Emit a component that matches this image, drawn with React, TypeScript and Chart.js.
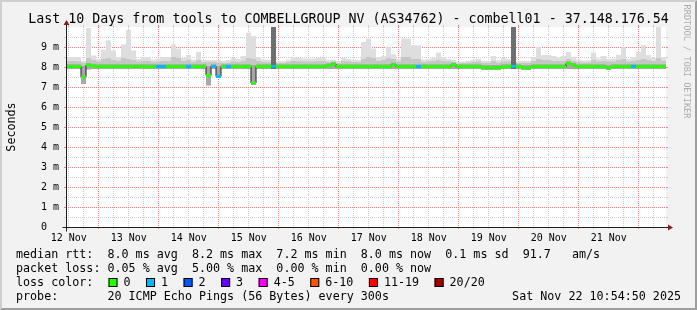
import React, { useEffect, useRef } from 'react';
import { Chart, registerables } from 'chart.js';

Chart.register(...registerables);

// ---------- text ----------
const TITLE = 'Last 10 Days from tools to COMBELLGROUP NV (AS34762) - combell01 - 37.148.176.54';
const Y_TITLE = 'Seconds';
const WATERMARK = 'RRDTOOL / TOBI OETIKER';
const STAT_LINE = 'median rtt:  8.0 ms avg  8.2 ms max  7.2 ms min  8.0 ms now  0.1 ms sd  91.7   am/s';
const LOSS_LINE = 'packet loss: 0.05 % avg  5.00 % max  0.00 % min  0.00 % now';
const LOSS_COLOR_TITLE = 'loss color:';
const PROBE_LINE = 'probe:       20 ICMP Echo Pings (56 Bytes) every 300s';
const DATE_TEXT = 'Sat Nov 22 10:54:50 2025';

// ---------- axes ----------
const RANGE_HOURS = 240; // 10 days, starting Nov 12 10:54:50
const BIN_HOURS = 2;
const FIRST_MIDNIGHT_H = 13 + 5 / 60 + 10 / 3600; // Nov 13 00:00 relative to start
const dayLabels = ['12 Nov', '13 Nov', '14 Nov', '15 Nov', '16 Nov', '17 Nov', '18 Nov', '19 Nov', '20 Nov', '21 Nov'];
const Y_MAX_MS = 10;
const yTickLabels = ['0', '1 m', '2 m', '3 m', '4 m', '5 m', '6 m', '7 m', '8 m', '9 m'];

// ---------- loss legend ----------
const lossLabels = ['0', '1', '2', '3', '4-5', '6-10', '11-19', '20/20'];
const lossColors = ['#26ff00', '#00b8ff', '#0059ff', '#6a00ff', '#ff00ff', '#ff5500', '#ff0000', '#a10000'];

// ---------- data (ms), one value per 2-hour bin ----------
const smokeMin = [
  7.9, 7.9, 7.9, 7.15, 7.88, 7.9, 7.9, 7.9, 7.9, 7.9,
  7.9, 7.9, 7.9, 7.9, 7.9, 7.9, 7.9, 7.9, 7.9, 7.9,
  7.9, 7.9, 7.9, 7.9, 7.9, 7.9, 7.9, 7.9, 7.08, 7.9,
  7.45, 7.9, 7.9, 7.9, 7.9, 7.9, 7.9, 7.1, 7.9, 7.9,
  7.9, 7.9, 7.9, 7.9, 7.9, 7.9, 7.9, 7.9, 7.9, 7.9,
  7.9, 7.9, 7.9, 7.9, 7.9, 7.9, 7.9, 7.9, 7.9, 7.9,
  7.9, 7.9, 7.9, 7.9, 7.9, 7.9, 7.9, 7.9, 7.9, 7.9,
  7.9, 7.9, 7.9, 7.9, 7.9, 7.9, 7.9, 7.9, 7.9, 7.9,
  7.9, 7.9, 7.9, 7.85, 7.85, 7.85, 7.85, 7.9, 7.9, 7.9,
  7.9, 7.85, 7.85, 7.9, 7.9, 7.9, 7.9, 7.9, 7.9, 7.9,
  7.9, 7.9, 7.9, 7.9, 7.9, 7.9, 7.9, 7.9, 7.85, 7.9,
  7.9, 7.9, 7.9, 7.9, 7.9, 7.9, 7.9, 7.9, 7.9, 7.9,
];
const smokeDarkTop = [
  8.14, 8.14, 8.14, 8.05, 8.2, 8.16, 8.14, 8.14, 8.14, 8.14,
  8.14, 8.14, 8.14, 8.14, 8.14, 8.14, 8.14, 8.14, 8.14, 8.14,
  8.14, 8.14, 8.14, 8.14, 8.14, 8.14, 8.14, 8.14, 8.05, 8.14,
  8.05, 8.14, 8.14, 8.14, 8.14, 8.14, 8.14, 8.1, 8.14, 8.14,
  8.14, 10.5, 8.14, 8.14, 8.14, 8.14, 8.14, 8.14, 8.14, 8.14,
  8.14, 8.14, 8.18, 8.25, 8.14, 8.14, 8.14, 8.14, 8.14, 8.14,
  8.14, 8.14, 8.14, 8.14, 8.14, 8.22, 8.14, 8.14, 8.14, 8.14,
  8.14, 8.14, 8.14, 8.14, 8.14, 8.14, 8.14, 8.22, 8.14, 8.14,
  8.14, 8.14, 8.14, 8.1, 8.1, 8.1, 8.1, 8.14, 8.14, 10.5,
  8.14, 8.1, 8.1, 8.14, 8.14, 8.14, 8.14, 8.14, 8.14, 8.14,
  8.28, 8.2, 8.14, 8.14, 8.14, 8.14, 8.14, 8.14, 8.1, 8.14,
  8.14, 8.14, 8.14, 8.14, 8.14, 8.14, 8.14, 8.14, 8.14, 8.14,
];
const smokeMidTop = [
  8.3, 8.3, 8.28, 8.2, 8.45, 8.35, 8.28, 8.4, 8.45, 8.35,
  8.3, 8.45, 8.4, 8.35, 8.28, 8.3, 8.3, 8.25, 8.28, 8.3,
  8.3, 8.5, 8.45, 8.3, 8.35, 8.25, 8.35, 8.25, 8.25, 8.25,
  8.22, 8.2, 8.22, 8.28, 8.25, 8.3, 8.45, 8.4, 8.3, 8.25,
  8.25, 10.5, 8.2, 8.2, 8.25, 8.3, 8.28, 8.28, 8.28, 8.28,
  8.3, 8.3, 8.25, 8.28, 8.2, 8.3, 8.28, 8.25, 8.25, 8.4,
  8.5, 8.45, 8.3, 8.35, 8.45, 8.4, 8.28, 8.5, 8.5, 8.4,
  8.4, 8.25, 8.28, 8.3, 8.35, 8.3, 8.28, 8.25, 8.18, 8.2,
  8.22, 8.25, 8.28, 8.2, 8.2, 8.3, 8.22, 8.28, 8.28, 10.5,
  8.2, 8.2, 8.2, 8.3, 8.4, 8.35, 8.35, 8.3, 8.3, 8.3,
  8.4, 8.3, 8.25, 8.22, 8.22, 8.35, 8.28, 8.3, 8.28, 8.28,
  8.35, 8.4, 8.28, 8.3, 8.35, 8.4, 8.35, 8.3, 8.45, 8.3,
];
const smokeMax = [
  8.5, 8.5, 8.5, 8.3, 9.95, 8.58, 8.4, 8.87, 9.33, 8.83,
  8.5, 9.13, 9.85, 8.83, 8.4, 8.5, 8.5, 8.37, 8.42, 8.5,
  8.5, 9.13, 8.92, 8.45, 8.6, 8.37, 8.75, 8.35, 8.35, 8.35,
  8.35, 8.3, 8.35, 8.45, 8.4, 8.55, 9.72, 9.55, 8.5, 8.37,
  8.37, 10.5, 8.3, 8.3, 8.37, 8.5, 8.45, 8.42, 8.42, 8.42,
  8.45, 8.45, 8.37, 8.37, 8.3, 8.45, 8.4, 8.35, 8.35, 9.25,
  9.42, 8.92, 8.5, 8.55, 9.0, 8.63, 8.4, 9.42, 9.42, 9.08,
  9.08, 8.37, 8.4, 8.45, 8.72, 8.5, 8.4, 8.35, 8.25, 8.27,
  8.3, 8.35, 8.4, 8.3, 8.3, 8.55, 8.33, 8.45, 8.4, 10.5,
  8.3, 8.3, 8.3, 8.5, 9.0, 8.6, 8.6, 8.55, 8.45, 8.55,
  8.75, 8.5, 8.37, 8.33, 8.33, 8.72, 8.42, 8.55, 8.4, 8.42,
  8.6, 9.0, 8.4, 8.5, 8.75, 9.08, 8.6, 8.45, 10.0, 8.5,
];
const medianRtt = [
  8.02, 8.02, 8.02, 7.5, 8.1, 8.05, 8.02, 8.02, 8.02, 8.02,
  8.02, 8.02, 8.03, 8.02, 8.02, 8.02, 8.01, 8.02, 8.02, 8.02,
  8.02, 8.02, 8.02, 8.02, 8.02, 8.02, 8.02, 8.02, 7.58, 8.03,
  7.53, 8.02, 8.02, 8.02, 8.02, 8.02, 8.02, 7.2, 8.02, 8.02,
  8.02, 8.03, 8.02, 8.02, 8.02, 8.02, 8.02, 8.02, 8.02, 8.02,
  8.02, 8.02, 8.08, 8.15, 8.02, 8.02, 8.02, 8.02, 8.02, 8.02,
  8.02, 8.02, 8.02, 8.02, 8.02, 8.12, 8.02, 8.02, 8.02, 8.02,
  8.02, 8.02, 8.02, 8.02, 8.02, 8.02, 8.02, 8.12, 8.02, 8.02,
  8.02, 8.02, 8.02, 7.97, 7.97, 7.96, 7.97, 8.0, 8.02, 8.03,
  8.02, 7.96, 7.96, 8.02, 8.02, 8.02, 8.02, 8.02, 8.02, 8.02,
  8.18, 8.1, 8.02, 8.02, 8.02, 8.02, 8.02, 8.02, 7.96, 8.02,
  8.02, 8.02, 8.02, 8.03, 8.02, 8.02, 8.02, 8.02, 8.02, 8.02,
];
const lossPings = [
  0, 0, 0, 0, 0, 0, 0, 0, 0, 0,
  0, 0, 0, 0, 0, 0, 0, 0, 1, 1,
  0, 0, 0, 0, 1, 0, 0, 0, 0, 1,
  1, 0, 1, 0, 0, 0, 0, 0, 0, 0,
  0, 1, 0, 0, 0, 0, 0, 0, 0, 0,
  0, 0, 0, 0, 0, 0, 0, 0, 0, 0,
  0, 0, 0, 0, 0, 0, 0, 0, 0, 0,
  1, 0, 0, 0, 0, 0, 0, 0, 0, 0,
  0, 0, 0, 0, 0, 0, 0, 0, 0, 1,
  0, 0, 0, 0, 0, 0, 0, 0, 0, 0,
  0, 0, 0, 0, 0, 0, 0, 0, 0, 0,
  0, 0, 0, 1, 0, 0, 0, 0, 0, 0,
];

// ---------- style ----------
const W = 697;
const H = 310;
const PLOT_LEFT = 66;
const PLOT_RIGHT = 666;
const PLOT_TOP = 27;
const PLOT_BOTTOM = 227;
const MONO = '"DejaVu Sans Mono", monospace';
const COL_BACK = '#f2f2f2';
const COL_SHADEA = '#cfcfcf';
const COL_SHADEB = '#9e9e9e';
const COL_GRID = '#cccccc';
const COL_MGRID = '#ec8a8a';
const COL_AXIS = 'rgb(31,31,31)';
const COL_ARROW = 'rgb(128,31,31)';
const MEDIAN_HALF = 0.075;

function lossBucket(n: number): number {
  if (n <= 3) return n;
  if (n <= 5) return 4;
  if (n <= 10) return 5;
  if (n <= 19) return 6;
  return 7;
}

function isMidnight(h: number) {
  const k = Math.round((h - FIRST_MIDNIGHT_H) / 6);
  return ((k % 4) + 4) % 4 === 0;
}
function noonIndex(h: number): number {
  const d = (h - (FIRST_MIDNIGHT_H - 12)) / 24;
  const r = Math.round(d);
  return Math.abs(d - r) < 1e-6 ? r : -1;
}

const rrdPlugin = {
  id: 'rrd',
  beforeDraw(chart: any) {
    const { ctx, chartArea: a } = chart;
    ctx.save();
    ctx.fillStyle = COL_BACK;
    ctx.fillRect(0, 0, W, H);
    ctx.fillStyle = COL_SHADEA;
    ctx.beginPath();
    ctx.moveTo(0, 0); ctx.lineTo(W, 0); ctx.lineTo(W - 2, 2); ctx.lineTo(2, 2); ctx.lineTo(2, H - 2); ctx.lineTo(0, H);
    ctx.closePath(); ctx.fill();
    ctx.fillStyle = COL_SHADEB;
    ctx.beginPath();
    ctx.moveTo(W, 0); ctx.lineTo(W, H); ctx.lineTo(0, H); ctx.lineTo(2, H - 2); ctx.lineTo(W - 2, H - 2); ctx.lineTo(W - 2, 2);
    ctx.closePath(); ctx.fill();
    ctx.fillStyle = '#ffffff';
    ctx.fillRect(a.left, a.top, a.right - a.left, a.bottom - a.top);
    ctx.restore();
  },
  beforeDatasetsDraw(chart: any) {
    const { ctx, chartArea: a, scales } = chart;
    const xsc = scales.x;
    const ysc = scales.y;
    ctx.save();
    ctx.lineWidth = 1;
    const hLine = (py: number, col: string) => {
      ctx.strokeStyle = col;
      ctx.setLineDash([]);
      ctx.beginPath();
      ctx.moveTo(a.left - 2, py); ctx.lineTo(a.left, py);
      ctx.moveTo(a.right, py); ctx.lineTo(a.right + 2, py);
      ctx.stroke();
      ctx.setLineDash([1, 1]);
      ctx.beginPath();
      ctx.moveTo(a.left, py); ctx.lineTo(a.right, py);
      ctx.stroke();
    };
    const vLine = (px: number, col: string) => {
      ctx.strokeStyle = col;
      ctx.setLineDash([]);
      ctx.beginPath();
      ctx.moveTo(px, a.top - 2); ctx.lineTo(px, a.top);
      ctx.moveTo(px, a.bottom); ctx.lineTo(px, a.bottom + 2);
      ctx.stroke();
      ctx.setLineDash([1, 1]);
      ctx.beginPath();
      ctx.moveTo(px, a.top); ctx.lineTo(px, a.bottom);
      ctx.stroke();
    };
    // minor first, major on top
    ysc.ticks.forEach((t: any) => {
      const v = t.value;
      if (v <= 0 || v >= Y_MAX_MS || Number.isInteger(v)) return;
      hLine(Math.floor(ysc.getPixelForValue(v) + 1e-6) + 0.5, COL_GRID);
    });
    xsc.ticks.forEach((t: any) => {
      if (isMidnight(t.value)) return;
      vLine(Math.floor(xsc.getPixelForValue(t.value) + 1e-6) + 0.5, COL_GRID);
    });
    ysc.ticks.forEach((t: any) => {
      const v = t.value;
      if (v <= 0 || v >= Y_MAX_MS || !Number.isInteger(v)) return;
      hLine(Math.floor(ysc.getPixelForValue(v) + 1e-6) + 0.5, COL_MGRID);
    });
    xsc.ticks.forEach((t: any) => {
      if (!isMidnight(t.value)) return;
      vLine(Math.floor(xsc.getPixelForValue(t.value) + 1e-6) + 0.5, COL_MGRID);
    });
    ctx.restore();
  },
  afterDraw(chart: any) {
    const { ctx, chartArea: a } = chart;
    const X0 = Math.floor(a.left) + 0.5;
    const X1 = a.right;
    const Y0 = Math.floor(a.bottom) + 0.5;
    const Y1 = a.top;
    ctx.save();
    // axes
    ctx.strokeStyle = COL_AXIS;
    ctx.lineWidth = 1;
    ctx.beginPath();
    ctx.moveTo(X0 - 4, Y0); ctx.lineTo(X1 + 4, Y0);
    ctx.moveTo(X0, Y0 + 4); ctx.lineTo(X0, Y1 - 4);
    ctx.stroke();
    ctx.fillStyle = COL_ARROW;
    ctx.beginPath();
    ctx.moveTo(X1 + 2, Y0 - 3); ctx.lineTo(X1 + 2, Y0 + 3); ctx.lineTo(X1 + 7, Y0); ctx.closePath(); ctx.fill();
    ctx.beginPath();
    ctx.moveTo(X0 - 3, Y1 - 2); ctx.lineTo(X0 + 3, Y1 - 2); ctx.lineTo(X0, Y1 - 7); ctx.closePath(); ctx.fill();

    // title
    ctx.fillStyle = '#000';
    ctx.textBaseline = 'middle';
    ctx.textAlign = 'center';
    ctx.font = `13.3px ${MONO}`;
    ctx.fillText(TITLE, W / 2, 19.5);

    // y title
    ctx.save();
    ctx.translate(11.5, (a.top + a.bottom) / 2);
    ctx.rotate(-Math.PI / 2);
    ctx.font = `11.7px ${MONO}`;
    ctx.fillText(Y_TITLE, 0, 0);
    ctx.restore();

    // watermark
    ctx.save();
    ctx.translate(686, 61.5);
    ctx.rotate(Math.PI / 2);
    ctx.font = `8.6px ${MONO}`;
    ctx.fillStyle = 'rgba(0,0,0,0.3)';
    ctx.fillText(WATERMARK, 0, 0);
    ctx.restore();

    // legend
    ctx.font = `11.7px ${MONO}`;
    ctx.textAlign = 'left';
    ctx.fillStyle = '#000';
    const LX = 16;
    ctx.fillText(STAT_LINE, LX, 255);
    ctx.fillText(LOSS_LINE, LX, 268.5);
    ctx.fillText(LOSS_COLOR_TITLE, LX, 282.5);
    ctx.fillText(PROBE_LINE, LX, 296.5);
    ctx.textAlign = 'right';
    ctx.fillText(DATE_TEXT, 681, 296.5);
    ctx.textAlign = 'left';
    let bx = 108.5;
    const cy = 282.5;
    lossLabels.forEach((lab, i) => {
      ctx.fillStyle = lossColors[i];
      ctx.fillRect(bx, cy - 4.5, 9, 9);
      ctx.strokeStyle = '#000';
      ctx.strokeRect(bx + 0.5, cy - 4, 8, 8);
      ctx.fillStyle = '#000';
      const lx = bx + 15;
      ctx.fillText(lab, lx, cy);
      bx = lx + ctx.measureText(lab).width + 15.5;
    });
    ctx.restore();
  },
};

const xs = smokeMax.map((_, i) => i * BIN_HOURS + BIN_HOURS / 2);

function floatBars(lo: number[], hi: number[]) {
  return xs.map((x, i) => ({ x, y: [lo[i], hi[i]] }));
}

const barCommon = {
  type: 'bar' as const,
  grouped: false,
  barPercentage: 1,
  categoryPercentage: 1,
  borderWidth: 0,
  inflateAmount: 0,
};

export default function App() {
  const ref = useRef<HTMLCanvasElement>(null);
  useEffect(() => {
    document.body.style.margin = '0';
    const chart = new Chart(ref.current as HTMLCanvasElement, {
      type: 'bar',
      data: {
        datasets: [
          { ...barCommon, label: 'smoke', data: floatBars(smokeMin, smokeMax), backgroundColor: '#dedede', order: 5 },
          { ...barCommon, label: 'smoke mid', data: floatBars(smokeMin, smokeMidTop), backgroundColor: '#c6c6c6', order: 4 },
          {
            ...barCommon,
            label: 'smoke core',
            data: floatBars(smokeMin, smokeDarkTop),
            backgroundColor: (c: any) => (smokeDarkTop[c.dataIndex] > 9 ? '#6e6e6e' : '#a8a8a8'),
            order: 3,
          },
          {
            type: 'line',
            label: 'median rtt',
            data: xs.map((x, i) => ({ x, y: medianRtt[i] })),
            borderColor: '#202020',
            borderWidth: 1,
            pointRadius: 0,
            stepped: 'middle',
            order: 2,
          },
          {
            ...barCommon,
            label: 'loss',
            data: xs.map((x, i) => ({ x, y: [medianRtt[i] - MEDIAN_HALF, medianRtt[i] + MEDIAN_HALF] })),
            backgroundColor: lossPings.map((n) => lossColors[lossBucket(n)]),
            order: 1,
          },
        ] as any,
      },
      options: {
        responsive: false,
        animation: false,
        devicePixelRatio: 1,
        events: [],
        layout: { padding: { top: PLOT_TOP, right: W - PLOT_RIGHT, left: 0, bottom: 0 } },
        plugins: { legend: { display: false }, tooltip: { enabled: false }, title: { display: false } },
        scales: {
          x: {
            type: 'linear',
            min: 0,
            max: RANGE_HOURS,
            offset: false,
            border: { display: false },
            grid: { display: false, offset: false, drawTicks: true, tickLength: 2 },
            ticks: {
              autoSkip: false,
              maxRotation: 0,
              padding: 3,
              color: '#000',
              font: { family: MONO, size: 10 },
              callback: (v: any) => {
                const n = noonIndex(Number(v));
                return n >= 0 && n < dayLabels.length ? dayLabels[n] : '';
              },
            },
            afterBuildTicks: (scale: any) => {
              const t: any[] = [];
              for (let h = FIRST_MIDNIGHT_H - 12; h < RANGE_HOURS; h += 6) if (h >= 0) t.push({ value: h });
              scale.ticks = t;
            },
            afterFit: (scale: any) => {
              scale.height = H - PLOT_BOTTOM;
            },
          },
          y: {
            type: 'linear',
            min: 0,
            max: Y_MAX_MS,
            border: { display: false },
            grid: { display: false, drawTicks: true, tickLength: 2 },
            ticks: {
              autoSkip: false,
              padding: 5,
              color: '#000',
              font: { family: MONO, size: 10 },
              callback: (v: any) => {
                const n = Number(v);
                if (!Number.isInteger(n) || n >= Y_MAX_MS) return '';
                return yTickLabels[n].padEnd(3, ' ');
              },
            },
            afterBuildTicks: (scale: any) => {
              const t: any[] = [];
              for (let k = 0; k <= Y_MAX_MS * 2; k++) t.push({ value: k / 2 });
              scale.ticks = t;
            },
            afterFit: (scale: any) => {
              scale.width = PLOT_LEFT;
            },
          },
        },
      },
      plugins: [rrdPlugin],
    } as any);
    return () => chart.destroy();
  }, []);
  return (
    <div style={{ position: 'fixed', left: 0, top: 0, width: W, height: H }}>
      <canvas ref={ref} width={W} height={H} style={{ display: 'block', width: W, height: H }} />
    </div>
  );
}
